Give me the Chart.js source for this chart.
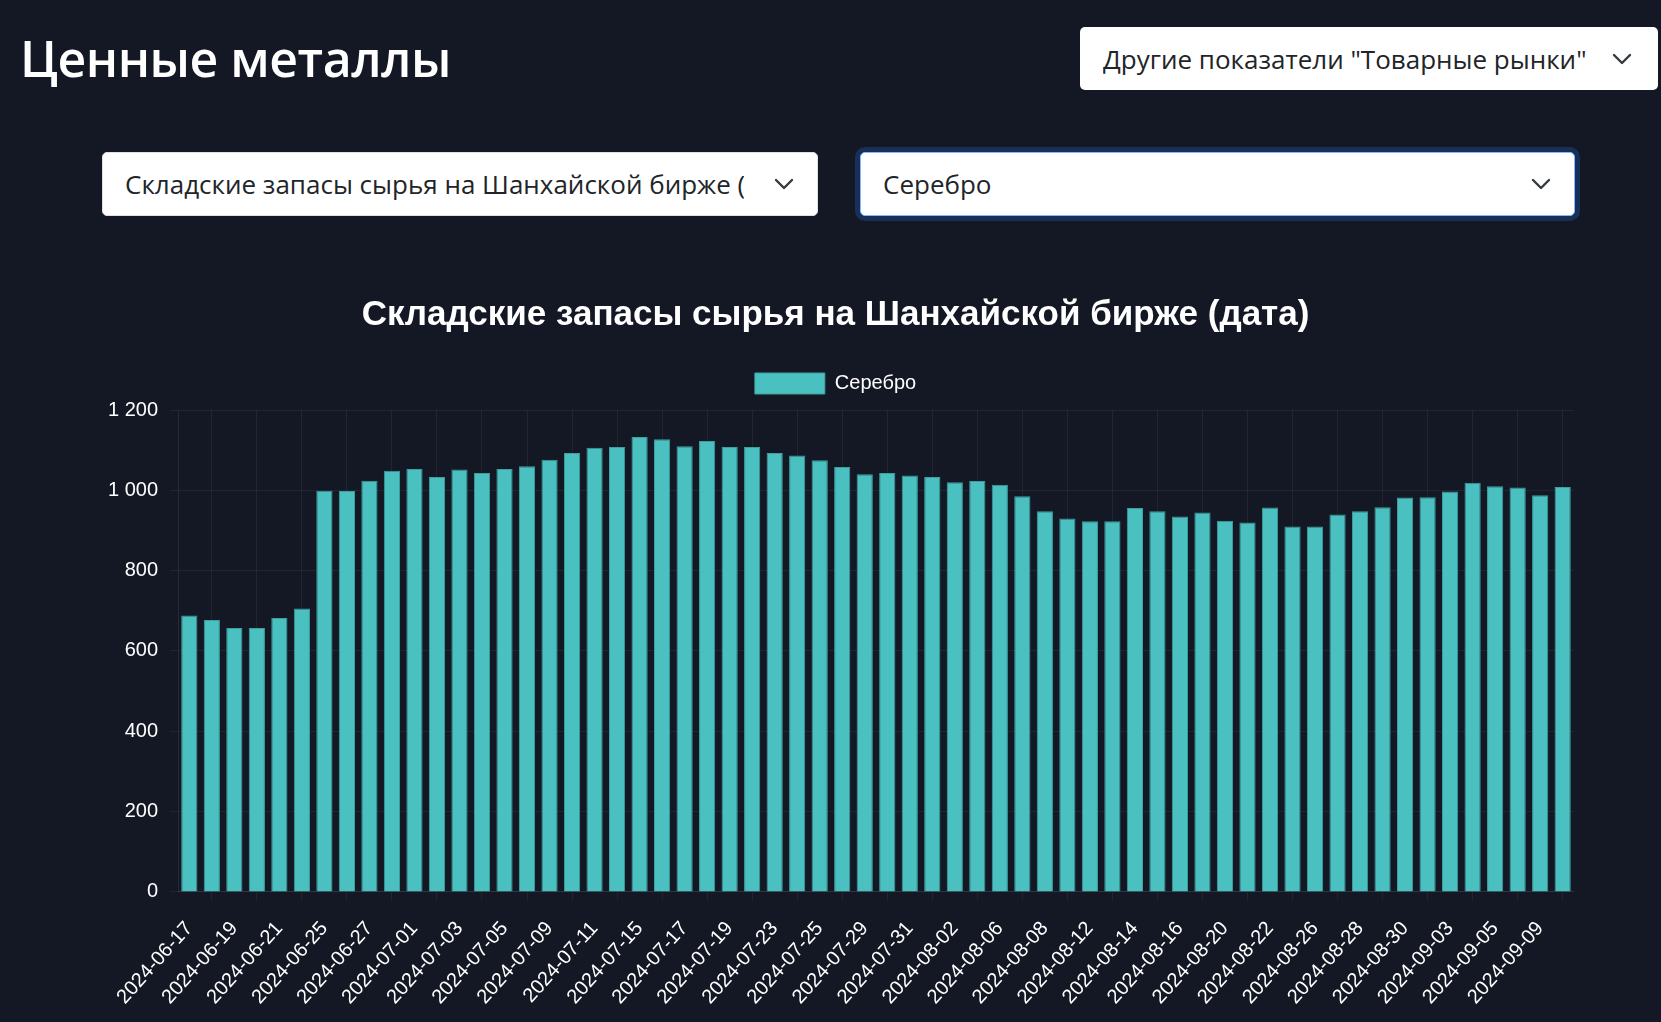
<!DOCTYPE html>
<html lang="ru">
<head>
<meta charset="utf-8">
<script src="https://cdn.jsdelivr.net/npm/chart.js@4"></script>
<style>
  html, body { margin: 0; padding: 0; }
  body { width: 1661px; height: 1022px; background: #141824; position: relative; overflow: hidden; font-family: "Open Sans", "Noto Sans", sans-serif; }
  h1 { position: absolute; left: 20px; top: 28px; margin: 0; font-size: 50px; font-weight: 600; color: #ffffff; line-height: 1.2; letter-spacing: -0.5px; }
  .sel { position: absolute; background: #fff; border-radius: 5px; box-sizing: border-box; color: #212529; font-size: 26px; display: flex; align-items: center; white-space: nowrap; overflow: hidden; }
  .sel span { flex: 1; overflow: hidden; }
  .sel svg { flex: none; }
  #other { left: 1080px; top: 27px; width: 578px; height: 63px; padding: 0 25px 0 23px; }
  #ind { left: 102px; top: 152px; width: 716px; height: 64px; padding: 0 22px 0 22px; border: 1px solid #dee2e6; }
  #ind span { margin-right: 29px; }
  #metal { left: 860px; top: 152px; width: 715px; height: 64px; padding: 0 22px 0 22px; border: 1px solid #86b7fe; box-shadow: 0 0 0 5px #173059; }
  #wrap { position: absolute; left: 96px; top: 262px; width: 1479px; height: 764px; }
</style>
</head>
<body>
<h1>Ценные металлы</h1>
<div class="sel" id="other"><span>Другие показатели "Товарные рынки"</span><svg width="22" height="14" viewBox="0 0 22 14"><polyline points="3,3 11,11 19,3" fill="none" stroke="#343a40" stroke-width="2.4" stroke-linecap="round" stroke-linejoin="round"/></svg></div>
<div class="sel" id="ind"><span>Складские запасы сырья на Шанхайской бирже (дата)</span><svg width="22" height="14" viewBox="0 0 22 14"><polyline points="3,3 11,11 19,3" fill="none" stroke="#343a40" stroke-width="2.4" stroke-linecap="round" stroke-linejoin="round"/></svg></div>
<div class="sel" id="metal"><span>Серебро</span><svg width="22" height="14" viewBox="0 0 22 14"><polyline points="3,3 11,11 19,3" fill="none" stroke="#343a40" stroke-width="2.4" stroke-linecap="round" stroke-linejoin="round"/></svg></div>
<div id="wrap"><canvas id="c" width="1479" height="764"></canvas></div>
<script>
const chartTitle = "Складские запасы сырья на Шанхайской бирже (дата)";
const seriesName = "Серебро";
const dates = [
  "2024-06-17","2024-06-18","2024-06-19","2024-06-20","2024-06-21",
  "2024-06-24","2024-06-25","2024-06-26","2024-06-27","2024-06-28",
  "2024-07-01","2024-07-02","2024-07-03","2024-07-04","2024-07-05",
  "2024-07-08","2024-07-09","2024-07-10","2024-07-11","2024-07-12",
  "2024-07-15","2024-07-16","2024-07-17","2024-07-18","2024-07-19",
  "2024-07-22","2024-07-23","2024-07-24","2024-07-25","2024-07-26",
  "2024-07-29","2024-07-30","2024-07-31","2024-08-01","2024-08-02",
  "2024-08-05","2024-08-06","2024-08-07","2024-08-08","2024-08-09",
  "2024-08-12","2024-08-13","2024-08-14","2024-08-15","2024-08-16",
  "2024-08-19","2024-08-20","2024-08-21","2024-08-22","2024-08-23",
  "2024-08-26","2024-08-27","2024-08-28","2024-08-29","2024-08-30",
  "2024-09-02","2024-09-03","2024-09-04","2024-09-05","2024-09-06",
  "2024-09-09","2024-09-10"
];
const silver = [
  688, 677, 657, 657, 682,
  706, 999, 998, 1024, 1049,
  1053, 1033, 1052, 1043, 1053,
  1060, 1076, 1093, 1106, 1108,
  1133, 1127, 1110, 1123, 1108,
  1108, 1093, 1087, 1075, 1058,
  1040, 1043, 1037, 1033, 1020,
  1023, 1014, 985, 948, 930,
  923, 923, 956, 948, 935,
  945, 924, 920, 957, 910,
  910, 940, 948, 958, 982,
  983, 997, 1019, 1010, 1007,
  988, 1008
];
const yTicks = [0, 200, 400, 600, 800, 1000, 1200];

const fontFam = '"Liberation Sans", Arial, Helvetica, sans-serif';
const legendMargin = {
  id: 'legendMargin',
  beforeInit(chart) {
    const fit = chart.legend.fit;
    chart.legend.fit = function () { fit.bind(chart.legend)(); this.height += 6; };
  }
};
new Chart(document.getElementById('c'), {
  type: 'bar',
  data: {
    labels: dates,
    datasets: [{
      label: seriesName,
      data: silver,
      backgroundColor: 'rgb(75,192,192)',
      borderColor: 'rgb(58,160,160)',
      borderWidth: 1
    }]
  },
  plugins: [legendMargin],
  options: {
    responsive: false,
    animation: false,
    locale: 'ru-RU',
    layout: { padding: { left: 0, right: 0, top: 0, bottom: 0 } },
    plugins: {
      title: {
        display: true,
        text: chartTitle,
        color: '#ffffff',
        font: { family: fontFam, size: 35, weight: 'bold' },
        padding: { top: 32, bottom: 27 }
      },
      legend: {
        labels: {
          color: '#ffffff',
          font: { family: fontFam, size: 20 },
          boxWidth: 70,
          boxHeight: 21
        }
      },
      tooltip: { enabled: false }
    },
    scales: {
      x: {
        ticks: { color: '#ffffff', font: { family: fontFam, size: 20 }, maxRotation: 48, minRotation: 48, padding: 17 },
        grid: { color: 'rgba(255,255,255,0.06)' },
        border: { color: 'rgba(255,255,255,0.08)' }
      },
      y: {
        min: yTicks[0],
        max: yTicks[yTicks.length - 1],
        afterBuildTicks: (axis) => { axis.ticks = yTicks.map(v => ({ value: v })); },
        ticks: { color: '#ffffff', font: { family: fontFam, size: 20 }, padding: 12 },
        grid: { color: 'rgba(255,255,255,0.06)' },
        border: { color: 'rgba(255,255,255,0.08)' }
      }
    }
  }
});
</script>
</body>
</html>
